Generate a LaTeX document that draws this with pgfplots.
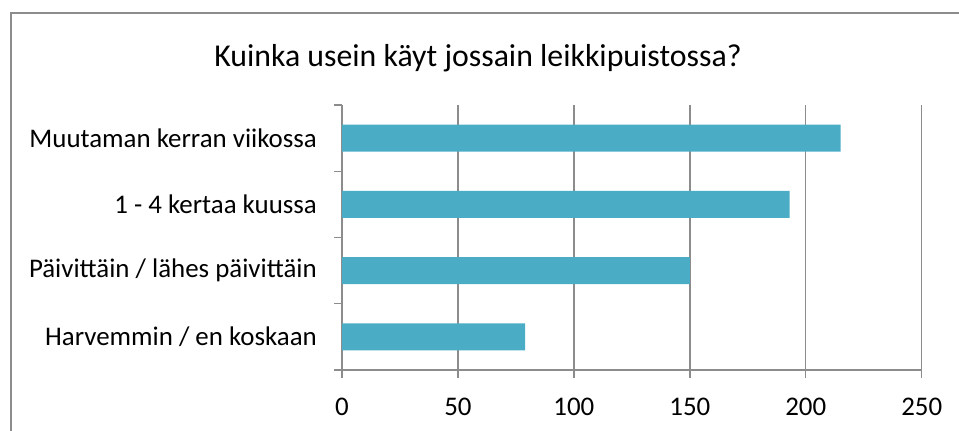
\documentclass[border=0pt]{standalone}
\usepackage{pgfplots}
\pgfplotsset{compat=1.18}
\usepackage{fontspec}
\setmainfont{Carlito}
\definecolor{barc}{HTML}{4BACC6}
\definecolor{axc}{HTML}{8C8C8C}
\begin{document}
\begin{tikzpicture}[x=1bp,y=1bp]
\useasboundingbox (0,0) rectangle (959,430);
\draw[axc, line width=1.4bp] (11,417) rectangle (1100,-50);
\node[anchor=base, inner sep=0pt, font=\fontsize{31.8bp}{36bp}\selectfont] at (478,363.3) {Kuinka usein käyt jossain leikkipuistossa?};
\begin{axis}[
  at={(342bp,60bp)}, anchor=south west,
  scale only axis, width=579.7bp, height=265bp,
  xmin=0, xmax=250, ymin=-0.5, ymax=3.5,
  xbar, bar width=27bp,
  axis lines*=left,
  axis line style={axc, line width=1.4bp},
  xmajorgrids, grid style={axc, line width=1.4bp},
  tick style={axc, line width=1.4bp},
  tick align=outside,
  major tick length=8bp, minor tick length=8bp,
  xtick={0,50,...,250},
  ytick={0,1,2,3},
  minor ytick={-0.5,0.5,1.5,2.5,3.5},
  major y tick style={draw=none},
  yticklabels={Harvemmin / en koskaan, Päivittäin / lähes päivittäin, 1 - 4 kertaa kuussa, Muutaman kerran viikossa},
  /pgf/number format/assume math mode=true,
  tick label style={font=\fontsize{26.9bp}{31bp}\selectfont, text=black},
  yticklabel style={inner sep=0pt, anchor=east, xshift=-17bp},
  xticklabel style={inner sep=0pt, anchor=north, yshift=-20bp},
]
\addplot[fill=barc, draw=none] coordinates {(79,0) (150,1) (193,2) (215,3)};
\end{axis}
\end{tikzpicture}
\end{document}
